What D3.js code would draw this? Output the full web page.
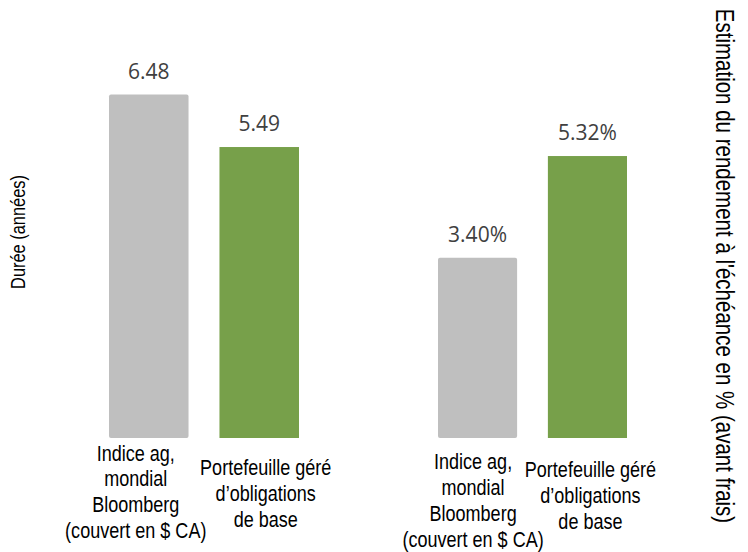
<!DOCTYPE html>
<html>
<head>
<meta charset="utf-8">
<script src="https://cdn.jsdelivr.net/npm/d3@7"></script>
<style>
  html, body { margin: 0; padding: 0; background: #ffffff; }
  svg { display: block; }
  .val { font-family: "Open Sans", "Noto Sans", sans-serif; font-size: 21px; fill: #404040; }
  .cat { font-family: "Liberation Sans", Arial, sans-serif; font-size: 22px; fill: #000000; }
  .ttl { font-family: "Liberation Sans", Arial, sans-serif; fill: #000000; }
</style>
</head>
<body>
<svg id="chart" width="748" height="552"></svg>
<script>
// ---- data ----
const categories = ["Indice ag, mondial Bloomberg (couvert en $ CA)", "Portefeuille géré d’obligations de base"];
const categoryLines = [
  ["Indice ag,", "mondial", "Bloomberg", "(couvert en $ CA)"],
  ["Portefeuille géré", "d’obligations", "de base"]
];
const durationValues = [6.48, 5.49];
const yieldValues = [3.40, 5.32];
const durationLabels = ["6.48", "5.49"];
const yieldLabels = ["3.40%", "5.32%"];
const leftTitle = "Durée (années)";
const rightTitle = "Estimation du rendement à l'échéance en % (avant frais)";
const colors = ["#bfbfbf", "#77a04a"];

// ---- layout ----
const svg = d3.select("#chart");
const narrow = 0.82; // emulate a condensed sans face
const baseY = 438;
const y = d3.scaleLinear().domain([0, 7]).range([baseY, 67]);

const panels = [
  { values: durationValues, labels: durationLabels, range: [109, 299], labelDx: [-13, 6.5], labelY: [460.5, 475] },
  { values: yieldValues, labels: yieldLabels, range: [438, 627], labelDx: [-4.5, 3], labelY: [469, 477] }
];

panels.forEach(p => {
  const x = d3.scaleBand().domain(categories).range(p.range).paddingInner(0.28).paddingOuter(0);
  const g = svg.append("g");
  const data = categories.map((c, i) => ({ c, i, v: p.values[i], lab: p.labels[i] }));

  g.selectAll("rect").data(data).enter().append("rect")
    .attr("x", d => x(d.c))
    .attr("y", d => y(d.v))
    .attr("width", x.bandwidth())
    .attr("height", d => baseY - y(d.v))
    .attr("rx", d => d.i === 0 ? 2 : 0)
    .attr("fill", d => colors[d.i]);

  g.selectAll("text.val").data(data).enter().append("text")
    .attr("class", "val")
    .attr("x", d => x(d.c) + x.bandwidth() / 2)
    .attr("y", d => y(d.v) - 16)
    .attr("text-anchor", "middle")
    .text(d => d.lab);

  data.forEach(d => {
    const cx = x(d.c) + x.bandwidth() / 2 + p.labelDx[d.i];
    const t = g.append("text")
      .attr("class", "cat")
      .attr("text-anchor", "middle")
      .attr("transform", `translate(${cx},${p.labelY[d.i]}) scale(${narrow},1)`);
    categoryLines[d.i].forEach((ln, k) => {
      t.append("tspan")
        .attr("x", 0)
        .attr("y", k * 26)
        .text(ln);
    });
  });
});

// axis titles
svg.append("text").attr("class", "ttl")
  .attr("transform", `translate(25,232) rotate(-90) scale(${narrow},1)`)
  .attr("text-anchor", "middle")
  .style("font-size", "20px")
  .text(leftTitle);

svg.append("text").attr("class", "ttl")
  .attr("transform", `translate(716,266) rotate(90) scale(${narrow},1)`)
  .attr("text-anchor", "middle")
  .style("font-size", "25px")
  .text(rightTitle);
</script>
</body>
</html>
